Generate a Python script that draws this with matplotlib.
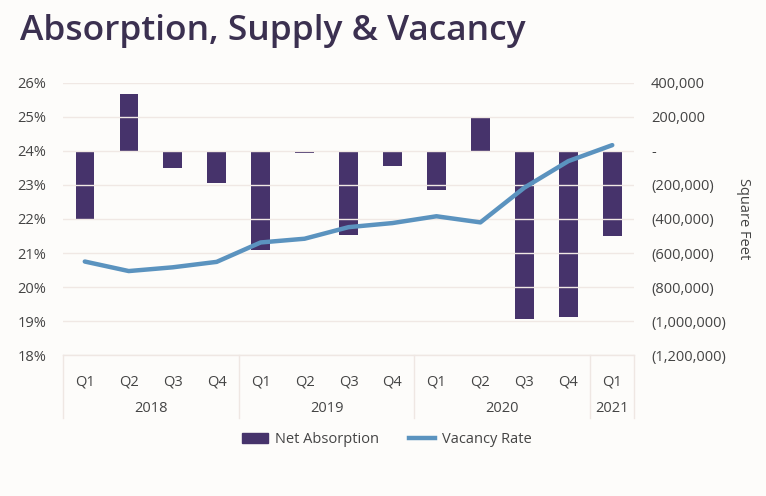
import matplotlib.pyplot as plt
from matplotlib.lines import Line2D
from matplotlib.patches import Patch

plt.rcParams['font.family'] = ['Open Sans', 'DejaVu Sans']

quarters = ['Q1', 'Q2', 'Q3', 'Q4', 'Q1', 'Q2', 'Q3', 'Q4', 'Q1', 'Q2', 'Q3', 'Q4', 'Q1']
years = ['2018', '2019', '2020', '2021']
year_sizes = [4, 4, 4, 1]
net_absorption = [-400000, 337000, -98000, -187000, -583000, -10000, -493000,
                  -90000, -231000, 196000, -986000, -977000, -502000]
vacancy_rate = [20.75, 20.47, 20.58, 20.74, 21.31, 21.42, 21.76,
                21.88, 22.08, 21.90, 22.92, 23.70, 24.17]

bg = '#fdfcfa'
bar_col = '#46336b'
line_col = '#5b93bf'
txt_col = '#444444'

fig = plt.figure(figsize=(7.66, 4.96), dpi=100, facecolor=bg)
ax = fig.add_axes([0.082, 0.284, 0.746, 0.549], facecolor=bg)
ax2 = ax.twinx()

x = list(range(len(quarters)))

# bars on the right axis (square feet)
ax2.bar(x, net_absorption, width=0.42, color=bar_col, zorder=3)
ax2.set_ylim(-1200000, 400000)
ax2.set_yticks(range(-1200000, 400001, 200000))
def sqft(v):
    if v == 0:
        return '-'
    if v < 0:
        return '({:,})'.format(-v)
    return '{:,}'.format(v)
ax2.set_yticklabels([sqft(v) for v in range(-1200000, 400001, 200000)])
ax2.set_ylabel('Square Feet', rotation=270, labelpad=18, fontsize=10.5, color=txt_col)

# line on the left axis (vacancy)
ax.set_zorder(ax2.get_zorder() + 1)
ax.patch.set_visible(False)
ax.plot(x, vacancy_rate, color=line_col, linewidth=3.2, solid_capstyle='round', zorder=4)
ax.set_ylim(18, 26)
ax.set_yticks(range(18, 27))
ax.set_yticklabels(['{}%'.format(v) for v in range(18, 27)])
ax.set_xlim(-0.5, len(quarters) - 0.5)
ax.grid(axis='y', color='#f0e8e4', linewidth=1, zorder=0)
ax.set_axisbelow(True)

for a in (ax, ax2):
    for s in a.spines.values():
        s.set_visible(False)
    a.tick_params(length=0, labelsize=10.5, colors=txt_col, pad=12)
ax2.tick_params(pad=12)

ax.set_xticks(x)
ax.set_xticklabels(quarters)
ax.tick_params(axis='x', pad=14)

# year labels and separators under the axis
trans = ax.get_xaxis_transform()
start = -0.5
ax.plot([-0.5, len(quarters) - 0.5], [0, 0], transform=trans, color='#efe7e3',
        linewidth=1, clip_on=False)
ax.plot([start, start], [0, -0.23], transform=trans, color='#efe7e3', linewidth=1, clip_on=False)
for yr, n in zip(years, year_sizes):
    end = start + n
    ax.text((start + end) / 2, -0.195, yr, transform=trans, ha='center', va='center',
            fontsize=10.5, color=txt_col)
    ax.plot([end, end], [0, -0.23], transform=trans, color='#efe7e3', linewidth=1, clip_on=False)
    start = end

fig.text(0.026, 0.937, 'Absorption, Supply & Vacancy', fontsize=25.5, fontweight='semibold',
         color='#3b3050', va='center', ha='left')

handles = [Patch(color=bar_col), Line2D([0], [0], color=line_col, linewidth=3.2)]
fig.legend(handles, ['Net Absorption', 'Vacancy Rate'], loc='center', ncol=2,
           bbox_to_anchor=(0.505, 0.113), frameon=False, fontsize=10.5,
           labelcolor=txt_col, handlelength=1.8, handletextpad=0.5, columnspacing=2.0)

fig.savefig('out.png', dpi=100, facecolor=bg)
